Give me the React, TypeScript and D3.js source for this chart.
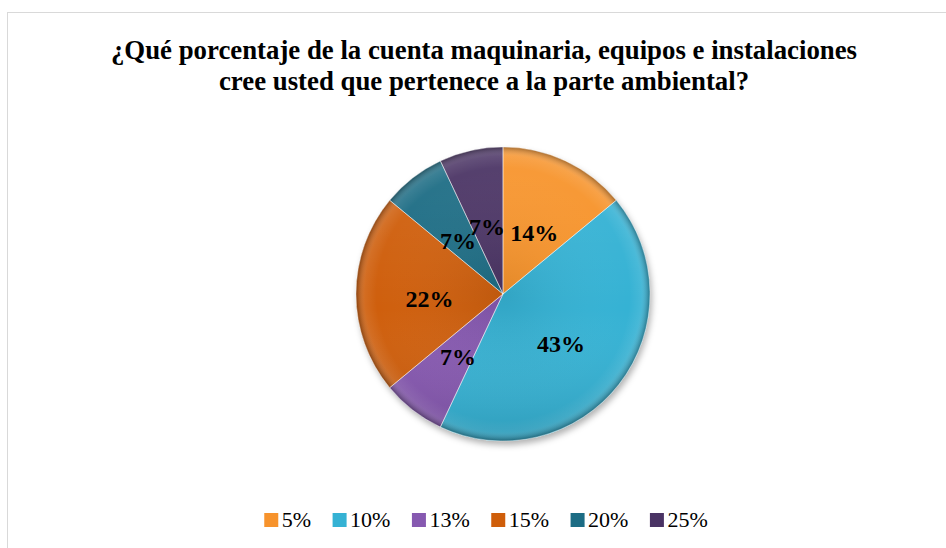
import React, { useRef, useEffect } from 'react';
import * as d3 from 'd3';

const categories = ['5%', '10%', '13%', '15%', '20%', '25%'];
const shares = [14, 43, 7, 22, 7, 7];
const colors = ['#F7932C', '#35B2D4', '#8659B0', '#CF5E0A', '#1C6C84', '#4A3364'];
const titleLines = [
    '¿Qué porcentaje de la cuenta maquinaria, equipos e instalaciones',
    'cree usted que pertenece a la parte ambiental?'
];

function App() {
    const width = 946;
    const height = 548;
    const svgRef = useRef<SVGSVGElement>(null);

    const cx = 503;
    const cy = 294;
    const radius = 147;
    const serif = '"Liberation Serif", "Times New Roman", serif';

    useEffect(() => {
        drawSvg();
    }, []);

    const drawSvg = () => {
        const svg = d3.select(svgRef.current);
        svg.selectAll('*').remove();

        const defs = svg.append('defs');
        defs.append('filter')
            .attr('id', 'pieShadow')
            .attr('x', '-20%').attr('y', '-20%')
            .attr('width', '140%').attr('height', '140%')
            .append('feDropShadow')
            .attr('dx', 2).attr('dy', 4)
            .attr('stdDeviation', 3)
            .attr('flood-color', '#000')
            .attr('flood-opacity', 0.3);

        const shade = defs.append('linearGradient')
            .attr('id', 'shade')
            .attr('x1', 0).attr('y1', 0).attr('x2', 0).attr('y2', 1);
        shade.append('stop').attr('offset', '0%').attr('stop-color', '#fff').attr('stop-opacity', 0.08);
        shade.append('stop').attr('offset', '55%').attr('stop-color', '#fff').attr('stop-opacity', 0);
        shade.append('stop').attr('offset', '100%').attr('stop-color', '#000').attr('stop-opacity', 0.12);

        const rim = defs.append('radialGradient')
            .attr('id', 'rim')
            .attr('gradientUnits', 'userSpaceOnUse')
            .attr('cx', 0).attr('cy', 0).attr('r', radius);
        rim.append('stop').attr('offset', '0%').attr('stop-color', '#000').attr('stop-opacity', 0.08);
        rim.append('stop').attr('offset', '86%').attr('stop-color', '#fff').attr('stop-opacity', 0);
        rim.append('stop').attr('offset', '94%').attr('stop-color', '#fff').attr('stop-opacity', 0.08);
        rim.append('stop').attr('offset', '100%').attr('stop-color', '#000').attr('stop-opacity', 0.35);

        // chart area border
        svg.append('rect')
            .attr('x', 7.5).attr('y', 12.5)
            .attr('width', width).attr('height', height)
            .attr('fill', '#fff')
            .attr('stroke', '#d9d9d9');

        const title = svg.append('text')
            .attr('text-anchor', 'middle')
            .attr('font-family', serif)
            .attr('font-weight', 'bold')
            .attr('font-size', 26.8)
            .attr('fill', '#000');
        titleLines.forEach((line, i) => {
            title.append('tspan')
                .attr('x', 484)
                .attr('y', 59 + i * 31)
                .text(line);
        });

        const pie = d3.pie<number>().sort(null).value(d => d);
        const arcs = pie(shares);
        const arc = d3.arc<d3.PieArcDatum<number>>().innerRadius(0).outerRadius(radius);

        const g = svg.append('g')
            .attr('transform', `translate(${cx},${cy})`);

        const slices = g.append('g').attr('filter', 'url(#pieShadow)');
        slices.selectAll('path.slice').data(arcs)
            .enter().append('path')
            .attr('class', 'slice')
            .attr('d', arc)
            .attr('fill', (d, i) => colors[i]);

        g.append('circle')
            .attr('r', radius)
            .attr('fill', 'url(#rim)');
        g.append('circle')
            .attr('r', radius)
            .attr('fill', 'url(#shade)');

        g.selectAll('path.edge').data(arcs)
            .enter().append('path')
            .attr('class', 'edge')
            .attr('d', arc)
            .attr('fill', 'none')
            .attr('stroke', 'rgba(255,255,255,0.4)')
            .attr('stroke-width', 1);

        g.selectAll('text.lbl').data(arcs)
            .enter().append('text')
            .attr('class', 'lbl')
            .attr('transform', d => `translate(${arc.centroid(d)})`)
            .attr('text-anchor', 'middle')
            .attr('dy', '0.55em')
            .attr('font-family', serif)
            .attr('font-weight', 'bold')
            .attr('font-size', 24)
            .attr('fill', '#000')
            .text(d => d3.format('.0f')(d.data) + '%');

        // legend
        const legend = svg.append('g');
        const items = legend.selectAll('g.item').data(categories)
            .enter().append('g')
            .attr('class', 'item');
        items.append('rect')
            .attr('y', 513)
            .attr('width', 14).attr('height', 14)
            .attr('fill', (d, i) => colors[i]);
        items.append('text')
            .attr('x', 17.5)
            .attr('y', 527)
            .attr('font-family', serif)
            .attr('font-size', 22)
            .attr('fill', '#000')
            .text(d => d);

        let x = 0;
        items.each(function () {
            const node = this as SVGGElement;
            d3.select(node).attr('transform', `translate(${x},0)`);
            const t = node.querySelector('text') as SVGTextElement;
            x += 17.5 + t.getComputedTextLength() + 21.5;
        });
        const total = x - 21.5;
        legend.attr('transform', `translate(${486 - total / 2},0)`);
    };

    return (
        <div style={{ position: 'absolute', left: 0, top: 0 }}>
            <svg ref={svgRef} width={width} height={height} style={{ display: 'block' }} />
        </div>
    );
}

export default App;
